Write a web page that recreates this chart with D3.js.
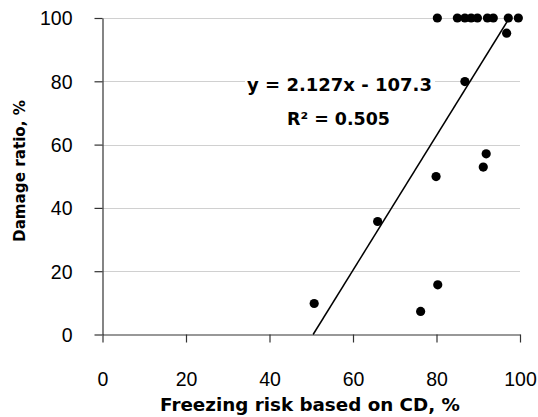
<!doctype html>
<head>
  <style>
    body {
      margin: 0;
      background: #fff;
      font-family: "Noto Sans", Arial, sans-serif;
    }
    .tick text {
      font-size: 19.5px;
      fill: #000;
    }
    .bold {
      font-family: "DejaVu Sans", sans-serif;
      font-weight: bold;
    }
  </style>
<script src="https://cdnjs.cloudflare.com/ajax/libs/d3/7.8.5/d3.min.js"></script>
</head>
<body>
<script>
// freezing risk (x) and damage ratio (y)
var riskCD = [50.7, 76.2, 65.9, 80.3, 79.9, 91.2, 91.9, 86.8, 96.8,
              80.2, 85.0, 86.8, 88.3, 89.8, 92.2, 93.6, 97.2, 99.6];
var damage = [9.8, 7.3, 35.7, 15.7, 49.9, 52.9, 57.1, 79.9, 95.2,
              100, 100, 100, 100, 100, 100, 100, 100, 100];
var xTicks = [0, 20, 40, 60, 80, 100];
var yTicks = [0, 20, 40, 60, 80, 100];
var slope = 2.127, intercept = -107.3;
var eqText = "y = 2.127x - 107.3";
var r2Text = "R\u00b2 = 0.505";

var W = 538, H = 417;
var svg = d3.select("body").append("svg")
  .attr("width", W)
  .attr("height", H);

var x = d3.scaleLinear().domain([0, 100]).range([102.5, 520]);
var y = d3.scaleLinear().domain([0, 100]).range([334.5, 18]);

// shrink/grow a label's font so it takes the width seen in the picture
function fit(sel, width, start) {
  sel.style("font-size", start + "px");
  var len = sel.node().getComputedTextLength();
  sel.style("font-size", (start * width / len).toFixed(2) + "px");
  return sel;
}

// dotted grid
svg.append("g")
  .selectAll("line")
  .data(yTicks.filter(d => d > 0))
  .enter().append("line")
    .attr("x1", x(0))
    .attr("x2", x(100))
    .attr("y1", d => Math.round(y(d)) + 0.5)
    .attr("y2", d => Math.round(y(d)) + 0.5)
    .attr("stroke", "#a0a0a0")
    .attr("stroke-dasharray", "1,1");

var xAxis = svg.append("g")
  .attr("transform", "translate(0," + y(0) + ")")
  .call(d3.axisBottom(x).tickValues(xTicks).tickSize(8).tickSizeOuter(0));
xAxis.selectAll("text").attr("y", 0).attr("dy", 0).attr("transform", "translate(0,51)");

var yAxis = svg.append("g")
  .attr("transform", "translate(" + x(0) + ",0)")
  .call(d3.axisLeft(y).tickValues(yTicks).tickSize(8).tickSizeOuter(0));
yAxis.selectAll("text").attr("x", -30).attr("dy", "0.35em");

svg.selectAll(".domain, .tick line")
  .attr("stroke", "#333")
  .attr("stroke-width", 1.2);

// trend line
var x0 = -intercept / slope, x1 = (100 - intercept) / slope;
svg.append("line")
  .attr("x1", x(x0)).attr("y1", y(0))
  .attr("x2", x(x1)).attr("y2", y(100))
  .attr("stroke", "#000")
  .attr("stroke-width", 1.5);

// points
svg.append("g")
  .selectAll("circle")
  .data(riskCD)
  .enter().append("circle")
    .attr("cx", d => x(d))
    .attr("cy", (d, i) => y(damage[i]))
    .attr("r", 4.6)
    .attr("fill", "#000");

// equation label
svg.append("rect")
  .attr("x", 245).attr("y", 74)
  .attr("width", 190).attr("height", 20)
  .attr("fill", "#fff");
fit(svg.append("text")
  .attr("class", "bold")
  .attr("x", 339.5).attr("y", 91)
  .attr("text-anchor", "middle")
  .text(eqText), 185, 18);
fit(svg.append("text")
  .attr("class", "bold")
  .attr("x", 338.5).attr("y", 125)
  .attr("text-anchor", "middle")
  .text(r2Text), 103, 18);

// axis titles
fit(svg.append("text")
  .attr("class", "bold")
  .attr("x", 310).attr("y", 411)
  .attr("text-anchor", "middle")
  .text("Freezing risk based on CD, %"), 300, 18);

fit(svg.append("text")
  .attr("class", "bold")
  .attr("transform", "translate(25,171) rotate(-90)")
  .attr("text-anchor", "middle")
  .text("Damage ratio, %"), 142, 17);
</script>
</body>
